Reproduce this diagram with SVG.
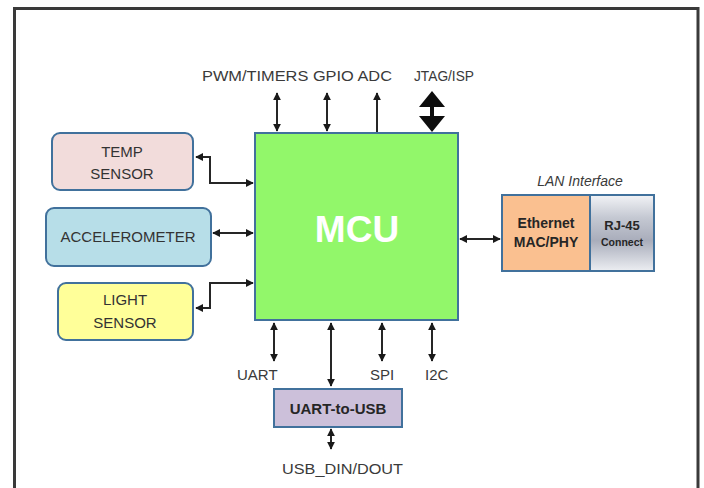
<svg xmlns="http://www.w3.org/2000/svg" width="704" height="488" viewBox="0 0 704 488">
<defs>
<style>
.lbl{font-family:"Liberation Sans",Arial,sans-serif;font-size:15px;fill:#3a3a3a}
.nt{font-family:"Liberation Sans",Arial,sans-serif;font-size:15px;fill:#333;text-anchor:middle}
.bt{font-family:"Liberation Sans",Arial,sans-serif;font-weight:bold;fill:#262626;text-anchor:middle}
.box{stroke:#41719c;stroke-width:2}
.wire{fill:none;stroke:#262626;stroke-width:2}
</style>
<marker id="ah" viewBox="0 0 10 10" refX="9" refY="5" markerWidth="4" markerHeight="4" orient="auto-start-reverse" markerUnits="strokeWidth">
<path d="M0,0 L10,5 L0,10 z" fill="#1a1a1a"/>
</marker>
<linearGradient id="rj" x1="0" y1="0" x2="0" y2="1">
<stop offset="0" stop-color="#f2f3f6"/>
<stop offset="0.3" stop-color="#c4c8d2"/>
<stop offset="0.6" stop-color="#a9adbb"/>
<stop offset="1" stop-color="#eceef2"/>
</linearGradient>
</defs>
<rect width="704" height="488" fill="#fff"/>
<path d="M14.5,488 V8.5 H698 V488" fill="none" stroke="#3a3a3a" stroke-width="3"/>

<g id="connectors">
<path class="wire" d="M277,93 V131" marker-start="url(#ah)" marker-end="url(#ah)"/>
<path class="wire" d="M327,93 V131" stroke-width="2.5" marker-start="url(#ah)" marker-end="url(#ah)"/>
<path class="wire" d="M377,93 V133" stroke-width="1.5" marker-start="url(#ah)"/>
<polygon points="432,91 445,107 434,107 434,116 445,116 432,132 419,116 430,116 430,107 419,107" fill="#0d0d0d"/>
<path class="wire" d="M196,157 H210 V183 H253" marker-start="url(#ah)" marker-end="url(#ah)"/>
<path class="wire" d="M213,233 H253" stroke-width="2.5" marker-start="url(#ah)" marker-end="url(#ah)"/>
<path class="wire" d="M196,308 H210 V283 H253" marker-start="url(#ah)" marker-end="url(#ah)"/>
<path class="wire" d="M460,239 H500" marker-start="url(#ah)" marker-end="url(#ah)"/>
<path class="wire" d="M274,323 V361" marker-start="url(#ah)" marker-end="url(#ah)"/>
<path class="wire" d="M331,323 V386" stroke-width="3" marker-start="url(#ah)" marker-end="url(#ah)"/>
<path class="wire" d="M382,323 V361" marker-start="url(#ah)" marker-end="url(#ah)"/>
<path class="wire" d="M432,323 V361" stroke-width="2.5" marker-start="url(#ah)" marker-end="url(#ah)"/>
<path class="wire" d="M331,429 V449" stroke-width="3" marker-start="url(#ah)" marker-end="url(#ah)"/>
</g>

<g id="labels">
<text class="lbl" x="202" y="81" textLength="190" lengthAdjust="spacingAndGlyphs">PWM/TIMERS GPIO ADC</text>
<text class="lbl" x="414" y="81" textLength="60" lengthAdjust="spacingAndGlyphs">JTAG/ISP</text>
<text class="lbl" x="237" y="380">UART</text>
<text class="lbl" x="370" y="380">SPI</text>
<text class="lbl" x="425" y="380">I2C</text>
<text class="lbl" x="282" y="474" textLength="121" lengthAdjust="spacingAndGlyphs">USB_DIN/DOUT</text>
</g>

<g id="mcu">
<rect class="box" x="255" y="133" width="203" height="187" fill="#92f76a" stroke="#5b7db8"/>
<text x="357" y="242" font-family="'Liberation Sans',Arial,sans-serif" font-weight="bold" font-size="37" fill="#fff" text-anchor="middle">MCU</text>
</g>

<g id="temp-sensor">
<rect class="box" x="52" y="133" width="141" height="57" rx="8" fill="#f2dcdb"/>
<text class="nt" x="122" y="157">TEMP</text>
<text class="nt" x="122" y="179">SENSOR</text>
</g>

<g id="accelerometer">
<rect class="box" x="46" y="208" width="165" height="58" rx="8" fill="#b7dee8"/>
<text class="nt" x="128" y="242">ACCELEROMETER</text>
</g>

<g id="light-sensor">
<rect class="box" x="58" y="283" width="135" height="57" rx="8" fill="#ffff99"/>
<text class="nt" x="125" y="305">LIGHT</text>
<text class="nt" x="125" y="328">SENSOR</text>
</g>

<g id="lan-interface">
<text x="580" y="186" font-family="'Liberation Sans',Arial,sans-serif" font-style="italic" font-size="14" fill="#3a3a3a" text-anchor="middle">LAN Interface</text>
<rect class="box" x="502" y="195" width="88" height="76" fill="#fac090"/>
<text class="bt" x="546" y="228" font-size="14">Ethernet</text>
<text class="bt" x="546" y="247" font-size="14">MAC/PHY</text>
<rect class="box" x="590" y="195" width="64" height="76" fill="url(#rj)"/>
<text class="bt" x="622" y="230" font-size="13">RJ-45</text>
<text class="bt" x="622" y="246" font-size="10.5">Connect</text>
</g>

<g id="uart-to-usb">
<rect class="box" x="274" y="389" width="128" height="38" fill="#ccc0da"/>
<text class="bt" x="338" y="414" font-size="15">UART-to-USB</text>
</g>
</svg>
